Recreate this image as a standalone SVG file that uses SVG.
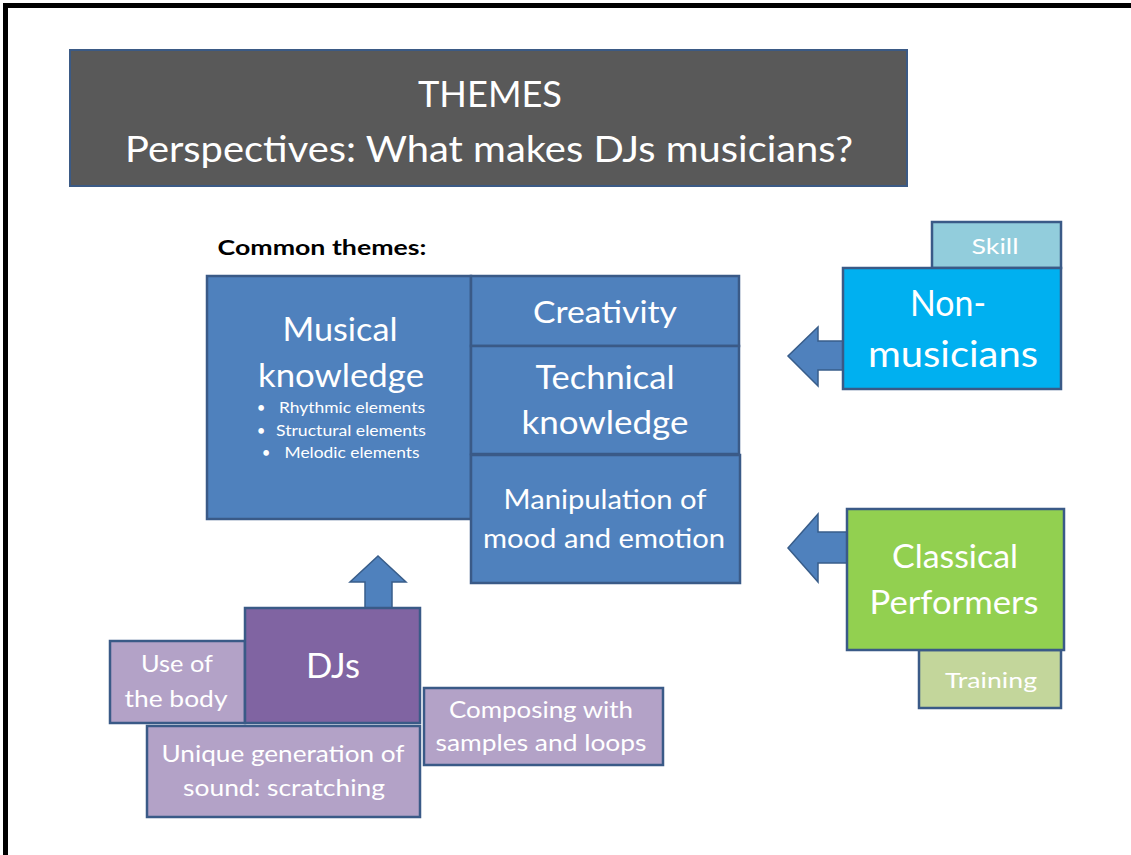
<svg xmlns="http://www.w3.org/2000/svg" width="1131" height="855" viewBox="0 0 1131 855">
  <style>
    text { font-family: Lato, "Liberation Sans", sans-serif; fill: #ffffff; text-anchor: middle; }
    .box { stroke: #3a5a87; stroke-width: 2.5; }
    .blue { fill: #4f81bd; }
    .purple { fill: #b3a2c7; }
    .arrow { fill: #4f81bd; stroke: #385d8a; stroke-width: 1.5; }
  </style>

  <rect width="1131" height="855" fill="#ffffff"/>
  <!-- page frame: left and top edges -->
  <path d="M5.5,855 V5.5 H1131" fill="none" stroke="#000000" stroke-width="5"/>

  <g id="title">
    <rect x="70" y="50" width="837" height="136" fill="#595959" stroke="#3b5a85" stroke-width="2"/>
    <text x="490" y="107" font-size="36" textLength="144" lengthAdjust="spacingAndGlyphs">THEMES</text>
    <text x="489" y="162" font-size="37" textLength="728" lengthAdjust="spacingAndGlyphs">Perspectives:  What makes DJs musicians?</text>
  </g>

  <text id="common-themes" x="322" y="255" font-size="20" font-weight="bold" style="fill:#000000" textLength="209" lengthAdjust="spacingAndGlyphs">Common themes:</text>

  <g id="connectors">
    <!-- up arrow from DJs -->
    <path class="arrow" d="M365,608 V582 H350 L378,556 L406,582 H392 V608 Z"/>
    <!-- left arrow from Non-musicians -->
    <path class="arrow" d="M843,341 H818 V327 L788,356 L818,386 V370 H843 Z"/>
    <!-- left arrow from Classical Performers -->
    <path class="arrow" d="M847,532 H818 V514 L788,548 L818,582 V563 H847 Z"/>
  </g>

  <g id="musical-knowledge">
    <rect class="box blue" x="207" y="276" width="264" height="243"/>
    <text x="340" y="341" font-size="32" textLength="115" lengthAdjust="spacingAndGlyphs">Musical</text>
    <text x="341" y="387" font-size="32" textLength="166" lengthAdjust="spacingAndGlyphs">knowledge</text>
    <g font-size="15">
      <text x="261" y="413">•</text>
      <text x="352" y="413" textLength="146" lengthAdjust="spacingAndGlyphs">Rhythmic elements</text>
      <text x="261" y="436">•</text>
      <text x="351" y="436" textLength="150" lengthAdjust="spacingAndGlyphs">Structural elements</text>
      <text x="266" y="458">•</text>
      <text x="352" y="458" textLength="135" lengthAdjust="spacingAndGlyphs">Melodic elements</text>
    </g>
  </g>

  <g id="creativity">
    <rect class="box blue" x="471" y="276" width="268" height="70"/>
    <text x="605" y="323" font-size="31" textLength="144" lengthAdjust="spacingAndGlyphs">Creativity</text>
  </g>

  <g id="technical-knowledge">
    <rect class="box blue" x="471" y="346" width="268" height="108"/>
    <text x="605" y="389" font-size="32" textLength="139" lengthAdjust="spacingAndGlyphs">Technical</text>
    <text x="605" y="434" font-size="32" textLength="167" lengthAdjust="spacingAndGlyphs">knowledge</text>
  </g>

  <g id="manipulation">
    <rect class="box blue" x="471" y="455" width="269" height="128"/>
    <text x="605" y="509" font-size="27" textLength="203" lengthAdjust="spacingAndGlyphs">Manipulation of</text>
    <text x="604" y="548" font-size="27" textLength="242" lengthAdjust="spacingAndGlyphs">mood and emotion</text>
  </g>

  <g id="skill">
    <rect class="box" x="932" y="222" width="129" height="46" fill="#92cddc"/>
    <text x="995" y="254" font-size="22" textLength="47" lengthAdjust="spacingAndGlyphs">Skill</text>
  </g>

  <g id="non-musicians">
    <rect class="box" x="843" y="268" width="218" height="121" fill="#00b0f0"/>
    <text x="948" y="316" font-size="36" textLength="76" lengthAdjust="spacingAndGlyphs">Non-</text>
    <text x="953" y="367" font-size="36" textLength="170" lengthAdjust="spacingAndGlyphs">musicians</text>
  </g>

  <g id="training">
    <rect class="box" x="919" y="650" width="142" height="58" fill="#c3d69b"/>
    <text x="991" y="688" font-size="22" textLength="92" lengthAdjust="spacingAndGlyphs">Training</text>
  </g>

  <g id="classical-performers">
    <rect class="box" x="847" y="509" width="217" height="141" fill="#92d050"/>
    <text x="955" y="568" font-size="33" textLength="126" lengthAdjust="spacingAndGlyphs">Classical</text>
    <text x="954" y="614" font-size="33" textLength="169" lengthAdjust="spacingAndGlyphs">Performers</text>
  </g>

  <g id="use-of-body">
    <rect class="box purple" x="110" y="641" width="135" height="82"/>
    <text x="177" y="672" font-size="24" textLength="72" lengthAdjust="spacingAndGlyphs">Use of</text>
    <text x="176" y="707" font-size="24" textLength="103" lengthAdjust="spacingAndGlyphs">the body</text>
  </g>

  <g id="djs">
    <rect class="box" x="245" y="608" width="175" height="115" fill="#8064a2"/>
    <text x="333" y="678" font-size="34" textLength="54" lengthAdjust="spacingAndGlyphs">DJs</text>
  </g>

  <g id="scratching">
    <rect class="box purple" x="147" y="726" width="273" height="91"/>
    <text x="283" y="762" font-size="24" textLength="243" lengthAdjust="spacingAndGlyphs">Unique generation of</text>
    <text x="284" y="796" font-size="24" textLength="202" lengthAdjust="spacingAndGlyphs">sound: scratching</text>
  </g>

  <g id="composing">
    <rect class="box purple" x="424" y="688" width="239" height="77"/>
    <text x="541" y="718" font-size="23" textLength="184" lengthAdjust="spacingAndGlyphs">Composing with</text>
    <text x="541" y="751" font-size="23" textLength="211" lengthAdjust="spacingAndGlyphs">samples and loops</text>
  </g>
</svg>
